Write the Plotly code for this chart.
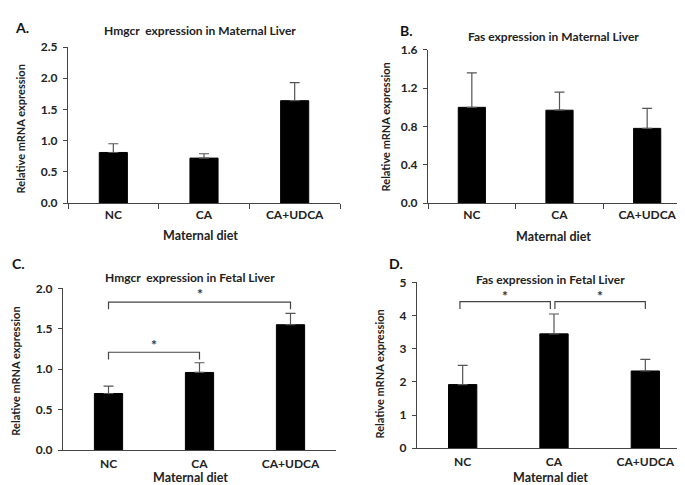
import plotly.graph_objects as go

categories = ["NC", "CA", "CA+UDCA"]

hmgcr_maternal = [0.81, 0.72, 1.64]
hmgcr_maternal_err = [0.14, 0.07, 0.29]

fas_maternal = [1.00, 0.97, 0.78]
fas_maternal_err = [0.36, 0.19, 0.21]

hmgcr_fetal = [0.70, 0.96, 1.55]
hmgcr_fetal_err = [0.09, 0.12, 0.14]

fas_fetal = [1.92, 3.45, 2.33]
fas_fetal_err = [0.58, 0.60, 0.35]

panel_titles = ["Hmgcr  expression in Maternal Liver", "Fas expression in Maternal Liver",
                "Hmgcr  expression in Fetal Liver", "Fas expression in Fetal Liver"]
panel_letters = ["A.", "B.", "C.", "D."]
y_title = "Relative mRNA expression"
x_title = "Maternal diet"

W, H = 685, 485
FONT = "Lato"

def px(x):
    return x / W

def py(y):
    return 1 - y / H

panels = [
    # data, err, xdom(px), ydom(px: bottom, top), yrange, dtick, fmt, boundaries, standoff
    (hmgcr_maternal, hmgcr_maternal_err, (60, 332), (193, 32), [0, 2.5], 0.5, ".1f", True, 0),
    (fas_maternal, fas_maternal_err, (420, 683), (193, 35), [0, 1.6], 0.4, ".1f", True, 0),
    (hmgcr_fetal, hmgcr_fetal_err, (55, 328), (448, 281), [0, 2.0], 0.5, ".1f", False, 2),
    (fas_fetal, fas_fetal_err, (409, 683), (446, 275), [0, 5], 1, "d", False, 2),
]

fig = go.Figure()
layout = {}
for i, (vals, errs, xd, yd, yr, dt, fmt, bnd, so) in enumerate(panels):
    n = i + 1
    xa = "x" if n == 1 else f"x{n}"
    ya = "y" if n == 1 else f"y{n}"
    fig.add_trace(go.Bar(
        x=categories, y=vals, xaxis=xa, yaxis=ya,
        marker=dict(color="black", line=dict(color="black", width=1)),
        width=0.31,
        error_y=dict(type="data", array=errs, arrayminus=[0, 0, 0], symmetric=False,
                     color="#555555", thickness=1.2, width=5),
        showlegend=False,
    ))
    xkey = "xaxis" if n == 1 else f"xaxis{n}"
    ykey = "yaxis" if n == 1 else f"yaxis{n}"
    layout[xkey] = dict(
        domain=[px(xd[0]), px(xd[1])], anchor=ya, type="category",
        showline=True, linecolor="#444444", linewidth=1.2, showgrid=False,
        ticks="outside" if bnd else "", ticklen=5, tickcolor="#444444",
        tickson="boundaries" if bnd else "labels", ticklabelstandoff=so,
        tickfont=dict(family=FONT, size=12, color="#222222", weight="bold"),
        fixedrange=True,
    )
    layout[ykey] = dict(
        domain=[py(yd[0]), py(yd[1])], anchor=xa, range=yr, dtick=dt, tick0=0,
        tickformat=fmt, showline=True, linecolor="#444444", linewidth=1.2,
        showgrid=False, ticks="outside", ticklen=4, tickcolor="#444444",
        ticklabelstandoff=3,
        tickfont=dict(family=FONT, size=12, color="#222222", weight="bold"), zeroline=False,
    )

fig.update_layout(**layout)

annotations = []
title_pos = [(192, 15), (545, 21), (182, 270), (542, 272)]
letter_pos = [(14, 12), (398, 15), (10, 255), (388, 255)]
ytitle_pos = [(12, 117), (377, 115), (8, 367), (372, 370)]
xtitle_pos = [(192, 227), (545, 228), (182, 476), (542, 476)]
for i in range(4):
    annotations.append(dict(text=panel_titles[i], x=px(title_pos[i][0]), y=py(title_pos[i][1]),
                            xref="paper", yref="paper", showarrow=False,
                            font=dict(family=FONT, size=12, color="#222222", weight="bold"),
                            xanchor="center", yanchor="middle"))
    annotations.append(dict(text=panel_letters[i], x=px(letter_pos[i][0]),
                            y=py(letter_pos[i][1]), xref="paper", yref="paper", showarrow=False,
                            font=dict(family=FONT, size=14, color="#111111", weight="bold"),
                            xanchor="center", yanchor="middle"))
    annotations.append(dict(text=y_title, x=px(ytitle_pos[i][0]),
                            y=py(ytitle_pos[i][1]), xref="paper", yref="paper", showarrow=False,
                            textangle=-90,
                            font=dict(family=FONT, size=11, color="#222222", weight="bold"),
                            xanchor="center", yanchor="middle"))
    annotations.append(dict(text=x_title, x=px(xtitle_pos[i][0]),
                            y=py(xtitle_pos[i][1]), xref="paper", yref="paper", showarrow=False,
                            font=dict(family=FONT, size=12.5, color="#222222", weight="bold"),
                            xanchor="center", yanchor="middle"))

# significance brackets: (xref, yref, x0, x1, y_top, y_leg, star_y)
brackets = [
    ("x3", "y3", 0, 1, 1.21, 1.12, 1.30),
    ("x3", "y3", 0, 2, 1.83, 1.74, 1.93),
    ("x4", "y4", -0.03, 0.96, 4.42, 4.2, 4.60),
    ("x4", "y4", 1.01, 2.0, 4.42, 4.2, 4.60),
]
shapes = []
for xr, yr_, x0, x1, yt, yl, ys in brackets:
    shapes.append(dict(type="path", xref=xr, yref=yr_,
                       path=f"M {x0},{yl} L {x0},{yt} L {x1},{yt} L {x1},{yl}",
                       line=dict(color="#444444", width=1.2)))
    annotations.append(dict(text="*", x=(x0 + x1) / 2, y=ys, xref=xr, yref=yr_,
                            showarrow=False,
                            font=dict(family=FONT, size=14, color="#333333", weight="bold"),
                            xanchor="center", yanchor="middle"))

fig.update_layout(
    width=W, height=H, margin=dict(l=0, r=0, t=0, b=0),
    paper_bgcolor="white", plot_bgcolor="white",
    annotations=annotations, shapes=shapes, showlegend=False,
)

fig.write_html("out.html")
